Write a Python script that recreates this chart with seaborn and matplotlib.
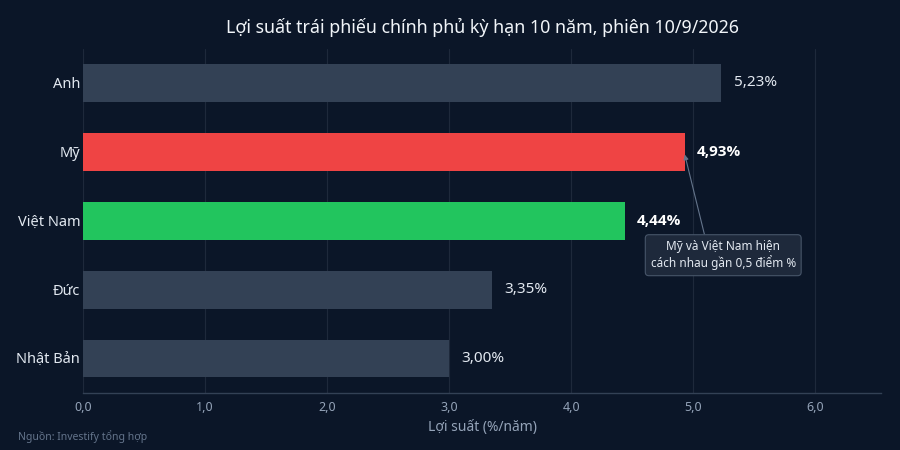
import matplotlib
matplotlib.use("Agg")
import matplotlib.pyplot as plt
import seaborn as sns
import pandas as pd

countries = ["Anh", "Mỹ", "Việt Nam", "Đức", "Nhật Bản"]
yields = [5.23, 4.93, 4.44, 3.35, 3.00]
bar_colors = ["#334155", "#ef4444", "#22c55e", "#334155", "#334155"]
bold_flags = [False, True, True, False, False]
x_ticks = [0, 1, 2, 3, 4, 5, 6]
x_tick_labels = ["0,0", "1,0", "2,0", "3,0", "4,0", "5,0", "6,0"]
title = "Lợi suất trái phiếu chính phủ kỳ hạn 10 năm, phiên 10/9/2026"
x_label = "Lợi suất (%/năm)"
source = "Nguồn: Investify tổng hợp"
note = "Mỹ và Việt Nam hiện\ncách nhau gần 0,5 điểm %"

BG = "#0b1628"
sns.set_theme(style="dark")
plt.rcParams["font.family"] = ["Noto Sans", "DejaVu Sans"]

df = pd.DataFrame({"country": countries, "yield": yields})

fig = plt.figure(figsize=(9, 4.5), dpi=100, facecolor=BG)
ax = fig.add_axes([83 / 900, 1 - 393 / 450, (881 - 83) / 900, (393 - 48.5) / 450])
ax.set_facecolor(BG)

sns.barplot(data=df, x="yield", y="country", hue="country", palette=bar_colors,
            legend=False, width=0.55, ax=ax, saturation=1, zorder=3,
            linewidth=0, edgecolor="none")

ax.set_xlim(0, 5.23 * 1.25)
ax.set_ylim(4.5, -0.5)
ax.set_xticks(x_ticks)
ax.set_xticklabels(x_tick_labels, color="#94a3b8", fontsize=9)
ax.tick_params(axis="x", length=0, pad=6)
ax.tick_params(axis="y", length=0, pad=2, labelsize=10.5, labelcolor="#e2e8f0")
ax.grid(axis="x", color="#1e293b", linewidth=0.8, zorder=0)
ax.grid(axis="y", visible=False)
for s in ["top", "right", "left"]:
    ax.spines[s].set_visible(False)
ax.spines["bottom"].set_color("#334155")
ax.spines["bottom"].set_linewidth(1)
ax.set_ylabel("")
ax.set_xlabel(x_label, color="#94a3b8", fontsize=10, labelpad=4)

for i, (v, b) in enumerate(zip(yields, bold_flags)):
    ax.text(v + 0.1, i, f"{v:.2f}".replace(".", ",") + "%", va="center", ha="left",
            fontsize=11, color="#ffffff" if b else "#e2e8f0",
            fontweight="bold" if b else "normal",
            family=["Open Sans", "DejaVu Sans"] if b else ["Noto Sans", "DejaVu Sans"],
            zorder=5)

ax.annotate(note, xy=(yields[1], 1.04), xytext=(5.245, 2.5),
            ha="center", va="center", fontsize=8.5, color="#e2e8f0",
            bbox=dict(boxstyle="round,pad=0.45,rounding_size=0.3", fc="#1e293b",
                      ec="#475569", lw=0.8),
            arrowprops=dict(arrowstyle="-|>", color="#64748b", lw=0.8,
                            mutation_scale=7, shrinkA=0, shrinkB=0,
                            relpos=(0.38, 1.0)),
            zorder=6)

fig.text(482 / 900, 1 - 27 / 450, title, ha="center", va="center", fontsize=12.8, color="#f1f5f9")
fig.text(18 / 900, 1 - 437 / 450, source, ha="left", va="center", fontsize=7.5, color="#64748b")

fig.savefig("out.png", dpi=100, facecolor=BG)
